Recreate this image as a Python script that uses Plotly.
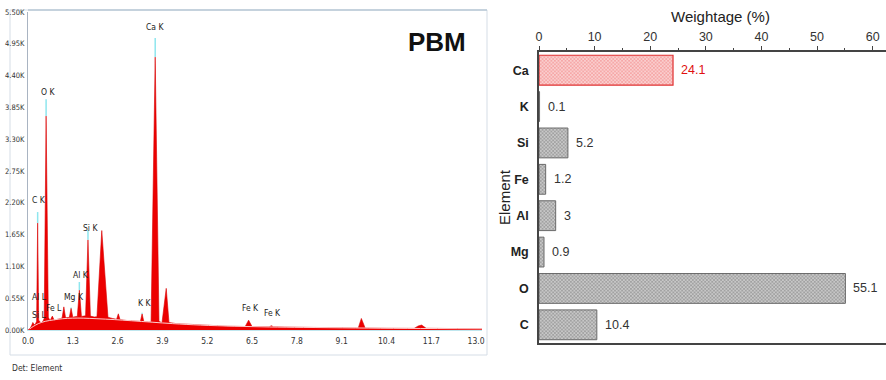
import plotly.graph_objects as go

# ---------------- Right panel data: element weight (%) ----------------
elements = ["Ca", "K", "Si", "Fe", "Al", "Mg", "O", "C"]
weights = [24.1, 0.1, 5.2, 1.2, 3, 0.9, 55.1, 10.4]
highlight_element = "Ca"
weight_ticks = [0, 10, 20, 30, 40, 50, 60]

# ---------------- Left panel data: EDS spectrum ----------------
energy_kev = [0.00, 0.05, 0.10, 0.14, 0.18, 0.22, 0.25, 0.28, 0.31, 0.38, 0.44,
              0.47, 0.525, 0.59, 0.64, 0.705, 0.76, 0.85, 0.95, 0.99, 1.04, 1.09,
              1.15, 1.20, 1.25, 1.30, 1.36, 1.43, 1.49, 1.55, 1.62, 1.67,
              1.74, 1.81, 1.92, 2.00, 2.14, 2.32, 2.45, 2.57,
              2.62, 2.67, 2.85, 3.05, 3.26, 3.31, 3.36, 3.50, 3.57, 3.69,
              3.80, 3.87, 3.89, 4.01, 4.09, 4.30, 4.70, 5.20, 5.80, 6.30,
              6.40, 6.50, 7.00, 7.06, 7.12, 7.80, 8.50, 9.10, 9.58, 9.67, 9.78, 10.40, 11.20,
              11.32, 11.42, 11.55, 12.00, 13.17]
counts = [0, 20, 70, 130, 90, 110, 150, 1850, 170, 120, 160,
          200, 3700, 220, 160, 240, 170, 180, 200, 210, 400, 210,
          210, 220, 380, 220, 230, 235, 690, 235, 240, 245,
          1560, 240, 225, 230, 1720, 220, 200, 185,
          280, 180, 165, 155, 150, 280, 145, 140, 140, 4720,
          150, 130, 140, 720, 130, 110, 95, 80, 65, 60,
          170, 60, 55, 75, 55, 48, 42, 38, 35, 200, 35, 30, 28,
          70, 85, 30, 25, 20]
background_kev = [0.05, 0.15, 0.30, 0.50, 0.75, 1.00, 1.30, 1.60, 2.00, 2.50, 3.00,
                  3.60, 4.20, 5.00, 6.00, 7.00, 8.00, 9.50, 11.00, 13.17]
background_counts = [20, 60, 110, 150, 175, 195, 205, 205, 195, 180, 160,
                     135, 110, 85, 65, 52, 45, 35, 28, 20]

peak_labels = ["Ca K", "O K", "C K", "Si K", "Al K", "Mg K", "Al L", "Fe L", "Si L", "K K", "Fe K", "Fe K"]
peak_label_kev = [3.69, 0.57, 0.33, 1.80, 1.55, 1.32, 0.32, 0.75, 0.32, 3.37, 6.44, 7.09]
peak_label_counts = [5240, 4120, 2240, 1770, 950, 570, 570, 380, 260, 460, 380, 300]

marker_kev = [3.69, 0.525, 0.28, 1.74, 1.49, 1.25, 3.31]
marker_top = [5050, 3990, 2040, 1730, 830, 390, 300]
marker_bottom = [4720, 3700, 1850, 1560, 690, 370, 280]

count_ticks = [0, 550, 1100, 1650, 2200, 2750, 3300, 3850, 4400, 4950, 5500]
count_tick_labels = ["0.00K", "0.55K", "1.10K", "1.65K", "2.20K", "2.75K",
                     "3.30K", "3.85K", "4.40K", "4.95K", "5.50K"]
energy_ticks = [0.0, 1.3, 2.6, 3.9, 5.2, 6.5, 7.8, 9.1, 10.4, 11.7, 13.0]
energy_tick_labels = ["0.0", "1.3", "2.6", "3.9", "5.2", "6.5", "7.8", "9.1", "10.4", "11.7", "13.0"]

panel_name = "PBM"
detector_note = "Det: Element"

# ---------------- Layout helpers ----------------
W, H = 886, 380


def px_x(x):
    return x / W


def px_y(y):
    return 1 - y / H


NARROW = "Liberation Sans Narrow, DejaVu Sans Condensed, Arial Narrow, sans-serif"
ARIAL = "Liberation Sans, Arial, sans-serif"

fig = go.Figure()

# ---- Spectrum (left) ----
fig.add_trace(go.Scatter(
    x=energy_kev, y=counts, mode="lines", fill="tozeroy",
    line=dict(color="#d80000", width=0.6), fillcolor="rgb(236,0,0)",
    xaxis="x2", yaxis="y2", hoverinfo="skip", showlegend=False))
fig.add_trace(go.Scatter(
    x=background_kev, y=background_counts, mode="lines",
    line=dict(color="rgba(255,215,215,0.95)", width=1, shape="spline"),
    xaxis="x2", yaxis="y2", hoverinfo="skip", showlegend=False))

mx, my = [], []
for e, t, b in zip(marker_kev, marker_top, marker_bottom):
    mx += [e, e, None]
    my += [b, t, None]
fig.add_trace(go.Scatter(
    x=mx, y=my, mode="lines", line=dict(color="#8ee6ee", width=1.5),
    xaxis="x2", yaxis="y2", hoverinfo="skip", showlegend=False))

for lab, e, c in zip(peak_labels, peak_label_kev, peak_label_counts):
    fig.add_annotation(x=e, y=c, xref="x2", yref="y2", text=lab, showarrow=False,
                       font=dict(family=NARROW, size=8.5, color="#222"),
                       xanchor="center", yanchor="middle")

# ---- Bars (right) ----
other_el = [e for e in elements if e != highlight_element]
other_w = [w for e, w in zip(elements, weights) if e != highlight_element]
hi_w = [w for e, w in zip(elements, weights) if e == highlight_element]

fig.add_trace(go.Bar(
    y=other_el, x=other_w, orientation="h", width=0.82,
    marker=dict(color="#a8a8a8", line=dict(color="#6a6a6a", width=1),
                pattern=dict(shape="x", size=2.5, solidity=0.6, fgcolor="#666666", bgcolor="#d6d6d6")),
    xaxis="x", yaxis="y", hoverinfo="skip", showlegend=False))
fig.add_trace(go.Bar(
    y=[highlight_element], x=hi_w, orientation="h", width=0.82,
    marker=dict(color="#f7c6c6", line=dict(color="#e03030", width=1.2),
                pattern=dict(shape="x", size=2.5, solidity=0.6, fgcolor="#f06a6a", bgcolor="#fcdede")),
    xaxis="x", yaxis="y", hoverinfo="skip", showlegend=False))

for e, w in zip(elements, weights):
    fig.add_annotation(x=w, y=e, xref="x", yref="y", text=str(w), showarrow=False,
                       xanchor="left", yanchor="middle", xshift=6,
                       font=dict(family=ARIAL, size=12.5,
                                 color="#e01010" if e == highlight_element else "#333"))

fig.update_layout(
    width=W, height=H, margin=dict(l=0, r=0, t=0, b=0, autoexpand=False),
    paper_bgcolor="white", plot_bgcolor="white", barmode="overlay",
    xaxis=dict(domain=[px_x(539), 1.0], range=[0, 62.4], side="top", anchor="y",
               tickvals=weight_ticks, ticks="outside", ticklen=4, tickwidth=1.2,
               tickcolor="#444", showline=True, linecolor="#444", linewidth=1.5,
               mirror=True, showgrid=False, zeroline=False, automargin=False,
               minor=dict(dtick=5, ticks="outside", ticklen=2, tickcolor="#444"),
               tickfont=dict(family=ARIAL, size=12.5, color="#333")),
    yaxis=dict(domain=[px_y(343), px_y(52)], anchor="x", categoryorder="array",
               categoryarray=elements, autorange="reversed", showline=True,
               linecolor="#444", linewidth=1.5, showgrid=False, zeroline=False,
               ticks="", ticklabelstandoff=6, automargin=False,
               tickfont=dict(family=ARIAL, size=12.5, color="#222", weight="bold")),
    xaxis2=dict(domain=[px_x(28), px_x(482)], range=[0, 13.17], anchor="y2",
                tickvals=energy_ticks, ticktext=energy_tick_labels, ticks="",
                showline=True, linecolor="#bfe6ee", linewidth=1.2, showgrid=False,
                zeroline=False, ticklabelstandoff=3, automargin=False,
                tickfont=dict(family=NARROW, size=8.5, color="#333")),
    yaxis2=dict(domain=[px_y(330), px_y(12)], range=[0, 5500], anchor="x2",
                tickvals=count_ticks, ticktext=count_tick_labels, ticks="",
                showline=True, linecolor="#a9b4c2", linewidth=1, showgrid=False,
                zeroline=False, ticklabelstandoff=1, automargin=False,
                tickfont=dict(family=NARROW, size=7.5, color="#333")),
)

# Frame around the spectrum panel
fig.add_shape(type="rect", xref="paper", yref="paper",
              x0=px_x(10), x1=px_x(487), y0=px_y(355), y1=px_y(10),
              line=dict(color="#d5dde6", width=1), layer="below")
fig.add_shape(type="line", xref="paper", yref="paper",
              x0=px_x(28), x1=px_x(487), y0=px_y(10), y1=px_y(10),
              line=dict(color="#b9c8d6", width=1.5))

fig.add_annotation(x=px_x(437), y=px_y(42), xref="paper", yref="paper", text="<b>" + panel_name + "</b>",
                   showarrow=False, font=dict(family=ARIAL, size=26, color="#111"),
                   xanchor="center", yanchor="middle")
fig.add_annotation(x=px_x(10), y=px_y(368), xref="paper", yref="paper", text=detector_note,
                   showarrow=False, font=dict(family=NARROW, size=8.5, color="#333"),
                   xanchor="left", yanchor="middle")

# Axis titles of the bar chart
fig.add_annotation(x=px_x(720), y=px_y(16), xref="paper", yref="paper", text="Weightage (%)",
                   showarrow=False, font=dict(family=ARIAL, size=15, color="#222"),
                   xanchor="center", yanchor="middle")
fig.add_annotation(x=px_x(505), y=px_y(197), xref="paper", yref="paper", text="Element",
                   showarrow=False, textangle=-90, font=dict(family=ARIAL, size=15, color="#222"),
                   xanchor="center", yanchor="middle")

fig.write_html("out.html",
               config={"displayModeBar": False},
               post_script="document.body.style.margin='0';document.body.style.padding='0';"
                           "document.body.style.overflow='hidden';")
